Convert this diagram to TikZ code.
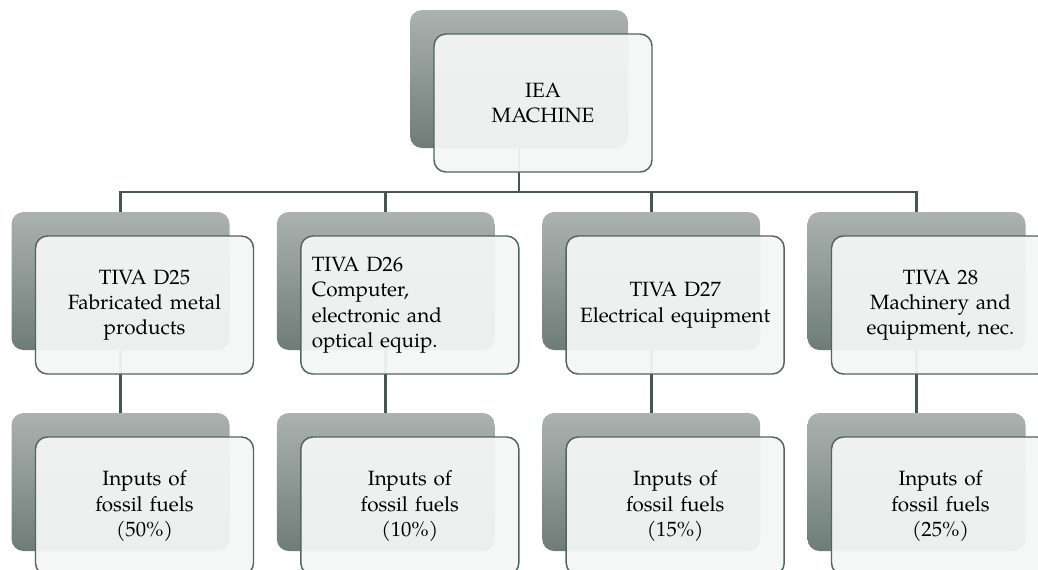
\documentclass[tikz,border=0pt]{standalone}
\usepackage{fontspec}
\setmainfont{TeX Gyre Pagella}
\definecolor{linegreen}{RGB}{69,87,82}
\definecolor{boxedge}{RGB}{80,102,97}
\definecolor{shadetop}{RGB}{171,178,175}
\definecolor{shadebot}{RGB}{110,124,120}
\definecolor{frontfill}{RGB}{244,245,245}
\tikzset{
  backbox/.style={rounded corners=9pt, minimum width=163.5pt, minimum height=103.5pt,
    inner sep=0pt, top color=shadetop, bottom color=shadebot},
  frontbox/.style={draw=boxedge, line width=1.1pt, rounded corners=9pt, fill=frontfill,
    fill opacity=0.95, text opacity=1, minimum width=163.5pt, minimum height=103.5pt,
    inner sep=0pt, text width=147pt, align=center, font=\fontsize{15.5}{19}\selectfont},
  link/.style={draw=linegreen, line width=2.2pt}
}
\begin{document}
\begin{tikzpicture}[x=0.75pt, y=-0.75pt]
  \useasboundingbox (0,0) rectangle (1038,569);
  % shaded plates behind
  \node[backbox] (ieab) at (519,79) {};
  \foreach \i/\x in {25/120.5, 26/385.8, 27/651.2, 28/916.5} {
    \node[backbox] (s\i b) at (\x,281) {};
    \node[backbox] (f\i b) at (\x,482) {};
  }

  % connectors
  \coordinate (bus) at (519,192);
  \draw[link] (ieab.south) -- (bus);
  \foreach \i in {25,26,27,28} {
    \draw[link] (bus) -| (s\i b.north);
    \draw[link] (s\i b.south) -- (f\i b.north);
  }

  % boxes in front
  \node[frontbox] (iea) at (543,103) {IEA\\MACHINE};
  \node[frontbox] (s25) at (144.5,305) {TIVA D25\\Fabricated metal\\products};
  \node[frontbox, align=left] (s26) at (409.8,305) {TIVA D26\\Computer,\\electronic and\\optical equip.};
  \node[frontbox] (s27) at (675.2,305) {TIVA D27\\Electrical equipment};
  \node[frontbox] (s28) at (940.5,305) {TIVA 28\\Machinery and\\equipment, nec.};
  \foreach \i/\x/\p in {25/144.5/50, 26/409.8/10, 27/675.2/15, 28/940.5/25} {
    \node[frontbox] (f\i) at (\x,506) {Inputs of\\fossil fuels\\(\p\%)};
  }
\end{tikzpicture}
\end{document}
